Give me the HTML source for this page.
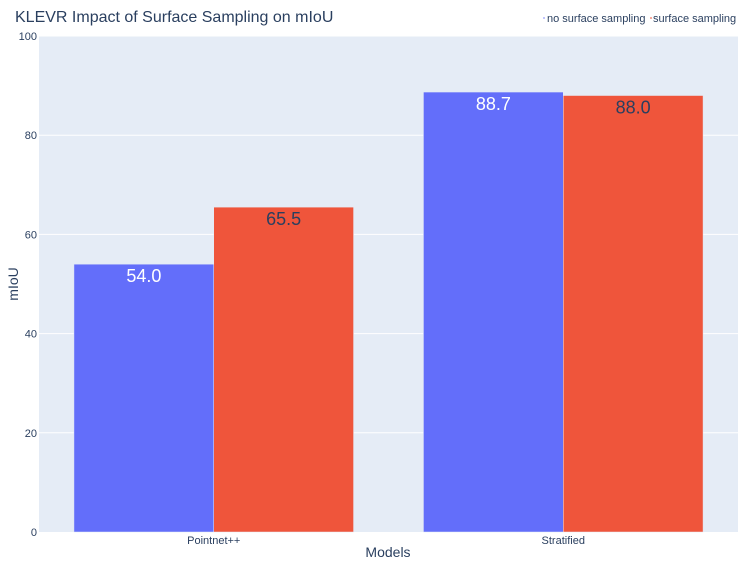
<!DOCTYPE html>
<html><head><meta charset="utf-8"><style>
body{margin:0;background:#fff;}
svg{font-family:"Liberation Sans",sans-serif;}
</style></head><body>
<svg id="chart" width="749" height="567">
<rect x="0" y="0" width="749" height="567" fill="#fff"/>
<rect x="39" y="36" width="699" height="496" fill="#e5ecf6"/>
<g id="grid"></g>
<g id="bars"></g>
<g id="ticks"></g>
<text x="15" y="22" font-size="16" fill="#2a3f5f">KLEVR Impact of Surface Sampling on mIoU</text>
<text x="388" y="557" font-size="14" fill="#2a3f5f" text-anchor="middle">Models</text>
<text transform="translate(18,284) rotate(-90)" font-size="14" fill="#2a3f5f" text-anchor="middle">mIoU</text>
<g>
<g><rect x="543" y="17" width="2" height="2" fill="#636efa" opacity="0.4"/><text x="547" y="22" font-size="11" fill="#2a3f5f">no surface sampling</text></g>
<g><rect x="650" y="17" width="2" height="2" fill="#ef553b" opacity="0.5"/><text x="653" y="22" font-size="11" fill="#2a3f5f">surface sampling</text></g>
</g>
</svg>
<script>
const categories=["Pointnet++","Stratified"];
const seriesNames=["no surface sampling","surface sampling"];
const noSurface=[54.0,88.7];
const surface=[65.5,88.0];
const yTicks=[0,20,40,60,80,100];
const colors=["#636efa","#ef553b"];
const textColors=["#fff","#2a3f5f"];
const NS="http://www.w3.org/2000/svg";
const X0=39,X1=738,Y0=532,Y1=36;
const y=v=>Y0-(v/100)*(Y0-Y1);
const band=(X1-X0)/categories.length;
const xc=i=>X0+band*(i+0.5);
function mk(t,a,p){const e=document.createElementNS(NS,t);for(const k in a)e.setAttribute(k,a[k]);p.appendChild(e);return e;}
const grid=document.getElementById('grid'),ticks=document.getElementById('ticks'),bars=document.getElementById('bars');
yTicks.forEach(v=>{
 if(v>0){const l=mk('line',{x1:X0,x2:X1,y1:y(v),y2:y(v),stroke:'#fff','stroke-width':1},grid);
 
 }
 const t=mk('text',{x:X0-2,y:y(v)+4,'font-size':11,fill:'#2a3f5f','text-anchor':'end'},ticks);t.textContent=v;
 
 
});
const series=[noSurface,surface];
const groupW=band*0.8,bw=groupW/2;
categories.forEach((c,i)=>{
 const t=mk('text',{x:xc(i),y:Y0+12,'font-size':11,fill:'#2a3f5f','text-anchor':'middle'},ticks);t.textContent=c;
 
 
 series.forEach((s,j)=>{
  const x=xc(i)-groupW/2+j*bw;
  const r=mk('rect',{x:x,y:y(s[i]),width:bw,height:Y0-y(s[i]),fill:colors[j],stroke:'#e5ecf6','stroke-width':0.5},bars);
  
  
  const lb=mk('text',{x:x+bw/2,y:y(s[i])+18,'font-size':18,fill:textColors[j],'text-anchor':'middle'},bars);
  lb.textContent=s[i].toFixed(1);
  
  
 });
});
</script>
</body></html>
